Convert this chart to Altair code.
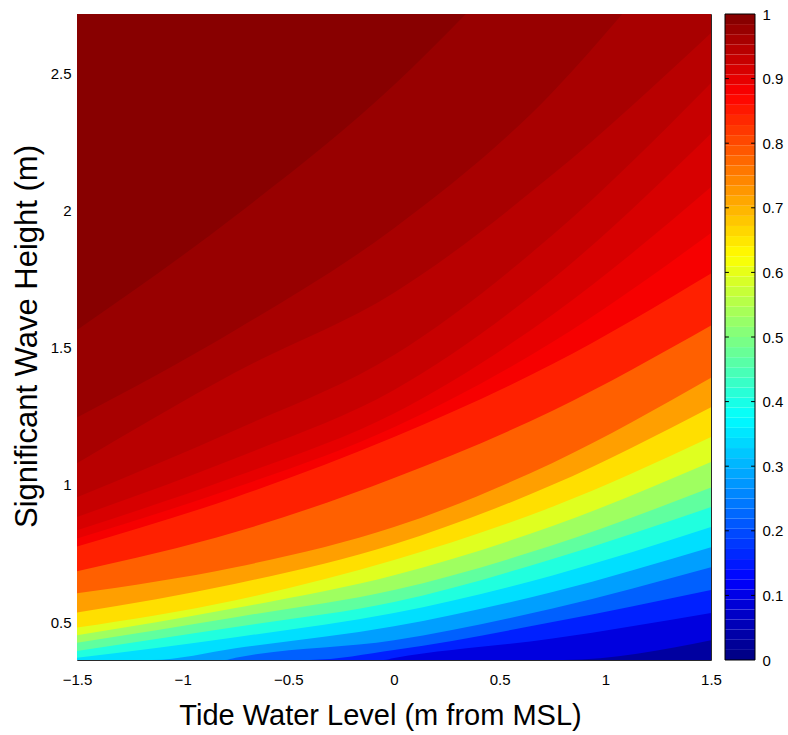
import altair as alt
import pandas as pd

# ---------------- data ----------------
X_MIN, X_MAX = -1.5, 1.5          # tide level range (m from MSL)
Y_MIN, Y_MAX = 0.362, 2.715       # significant wave height range (m)

X_TICKS = [-1.5, -1, -0.5, 0, 0.5, 1, 1.5]
Y_TICKS = [0.5, 1, 1.5, 2, 2.5]
CBAR_TICKS = [0, 0.1, 0.2, 0.3, 0.4, 0.5, 0.6, 0.7, 0.8, 0.9, 1]

# contour levels of the filled-contour field
LEVELS = [0.0, 0.0625, 0.125, 0.1875, 0.25, 0.3125, 0.375, 0.4375, 0.5,
          0.5625, 0.625, 0.6875, 0.75, 0.8125, 0.875, 0.890625, 0.90625,
          0.921875, 0.9375, 0.953125, 0.96875, 0.984375]

# tide levels of the columns where each contour's wave height was read
COL_T = [-1.5, -0.75, 0.0, 0.75, 1.5]

# wave height (m) of each contour at each column (None = outside the plot)
H_TM150 = [0.362, None, None, None, None, None, 0.37, 0.395, 0.425,
           0.452, 0.48, 0.535, 0.605, 0.685, 0.775, 0.805, 0.835,
           0.883, 0.955, 1.079, 1.245, 1.564]
H_TM075 = [0.362, None, None, None, 0.37, 0.405, 0.445, 0.482, 0.518,
           0.551, 0.58, 0.64, 0.70, 0.828, 0.955, 0.99, 1.03,
           1.097, 1.20, 1.41, 1.564, 1.98]
H_T000 = [0.362, None, 0.369, 0.398, 0.434, 0.485, 0.533, 0.573, 0.617,
          0.671, 0.726, 0.784, 0.846, 1.025, 1.174, 1.21, 1.26,
          1.345, 1.473, 1.70, 1.935, 2.456]
H_T075 = [0.362, None, 0.44, 0.50, 0.55, 0.61, 0.67, 0.73, 0.78,
          0.85, 0.92, 1.00, 1.08, 1.27, 1.44, 1.52, 1.62,
          1.75, 1.91, 2.13, 2.43, None]
H_T150 = [0.362, 0.434, 0.533, 0.617, 0.70, 0.773, 0.846, 0.919, 0.99,
          1.083, 1.174, 1.283, 1.39, 1.58, 1.77, 1.917, 2.085,
          2.28, 2.464, 2.646, None, None]

# tide level where a contour leaves through the bottom / top edge
BOTTOM_CROSS_T = [None, 0.8, -0.05, -0.4, -0.8, -1.15, None, None, None,
                  None, None, None, None, None, None, None, None,
                  None, None, None, None, None]
TOP_CROSS_T = [None, None, None, None, None, None, None, None, None,
               None, None, None, None, None, None, None, None,
               None, None, None, 1.08, 0.34]

CBAR_STEPS = 64   # number of colour steps in the colour bar

# ---------------- styling ----------------
FONT = "Liberation Sans"
JET = alt.Scale(domain=[0, 0.125, 0.375, 0.625, 0.875, 1.0],
                range=["#000080", "#0000ff", "#00ffff", "#ffff00", "#ff0000", "#800000"],
                interpolate="rgb")
PLOT_W, PLOT_H = 634, 646

x_enc = alt.X("t:Q",
              scale=alt.Scale(domain=[X_MIN, X_MAX], nice=False, zero=False),
              axis=alt.Axis(values=X_TICKS, format="~g", title="Tide Water Level (m from MSL)",
                            ticks=False, domain=False, grid=False, labelPadding=12,
                            labelFontSize=15, labelFlush=False, labelOverlap=False,
                            titleFontSize=29, titleX=303, titleY=55,
                            titleBaseline="middle", titleAlign="center"))
y_enc = alt.Y("H:Q",
              scale=alt.Scale(domain=[Y_MIN, Y_MAX], nice=False, zero=False),
              axis=alt.Axis(values=Y_TICKS, format="~g", title="Significant Wave Height (m)",
                            ticks=False, domain=False, grid=False, labelPadding=6,
                            labelFontSize=15, labelFlush=False, labelOverlap=False,
                            titleFontSize=31, titleX=-50, titleY=322, titleAngle=-90,
                            titleBaseline="middle", titleAlign="center"))

cols = [H_TM150, H_TM075, H_T000, H_T075, H_T150]
field_layers = []
for i, lev in enumerate(LEVELS):
    nxt = LEVELS[i + 1] if i + 1 < len(LEVELS) else 1.0
    mid = (lev + nxt) / 2
    tb, tc = BOTTOM_CROSS_T[i], TOP_CROSS_T[i]
    pts = []
    if tb is not None:
        pts += [(X_MIN, Y_MIN), (tb, Y_MIN)]
    for t, col in zip(COL_T, cols):
        h = col[i]
        if h is None:
            continue
        if tb is not None and t <= tb:
            continue
        if tc is not None and t >= tc:
            continue
        pts.append((t, h))
    if tc is not None:
        pts.append((tc, Y_MAX))
    df = pd.DataFrame(pts, columns=["t", "H"])
    df["top"] = Y_MAX
    df["mid"] = mid
    field_layers.append(
        alt.Chart(df).mark_area(interpolate="monotone", clip=True, strokeWidth=0).encode(
            x=x_enc, y=y_enc, y2="top",
            color=alt.Color("mid:Q", scale=JET, legend=None)))
field = alt.layer(*field_layers)

# ---------------- colour bar ----------------
cb_lo = [k / CBAR_STEPS for k in range(CBAR_STEPS)]
cb_df = pd.DataFrame({"lo": cb_lo,
                      "hi": [v + 1 / CBAR_STEPS for v in cb_lo],
                      "mid": [v + 0.5 / CBAR_STEPS for v in cb_lo],
                      "c0": 0.0, "c1": 1.0})
cbx = alt.Scale(domain=[0, 1], range=[648, 678])
cb_x = lambda f: alt.X(f, type="quantitative", scale=cbx, axis=None)
cb_y = lambda f: alt.Y(f, type="quantitative",
                       scale=alt.Scale(domain=[0, 1], nice=False, zero=False),
                       axis=alt.Axis(orient="right", offset=44, values=CBAR_TICKS, format="~g",
                                     ticks=False, domain=False, grid=False, labelPadding=7,
                                     labelFontSize=15, labelFlush=False, labelOverlap=False,
                                     title=None))
cb_rects = alt.Chart(cb_df).mark_rect(strokeWidth=0).encode(
    x=cb_x("c0"), x2="c1", y=cb_y("lo"), y2="hi",
    color=alt.Color("mid:Q", scale=JET, legend=None))

inner = [v for v in CBAR_TICKS if 0 < v < 1]
tick_df = pd.DataFrame({"lo": inner * 2,
                        "c0": [0.0] * len(inner) + [0.87] * len(inner),
                        "c1": [0.13] * len(inner) + [1.0] * len(inner)})
cb_ticks = alt.Chart(tick_df).mark_rule(color="#000000", strokeWidth=1).encode(
    x=cb_x("c0"), x2="c1", y=cb_y("lo"))
frame_df = pd.DataFrame({"c0": [0.0], "c1": [1.0], "lo": [0.0], "hi": [1.0]})
cb_frame = alt.Chart(frame_df).mark_rect(filled=False, stroke="#000000", strokeWidth=1).encode(
    x=cb_x("c0"), x2="c1", y=cb_y("lo"), y2="hi")
cbar = alt.layer(cb_rects, cb_ticks, cb_frame)

chart = alt.layer(field, cbar).resolve_scale(x="independent", y="independent").properties(
    width=PLOT_W, height=PLOT_H,
    autosize=alt.AutoSizeParams(type="none"),
    padding={"left": 77, "top": 14, "right": 77, "bottom": 75},
).configure_view(stroke="#2a2a2a", strokeWidth=1).configure_axis(
    labelFont=FONT, titleFont=FONT, labelColor="#000000", titleColor="#000000",
    titleFontWeight="normal")

chart.save("out.html", embed_options={"renderer": "svg", "actions": False})
